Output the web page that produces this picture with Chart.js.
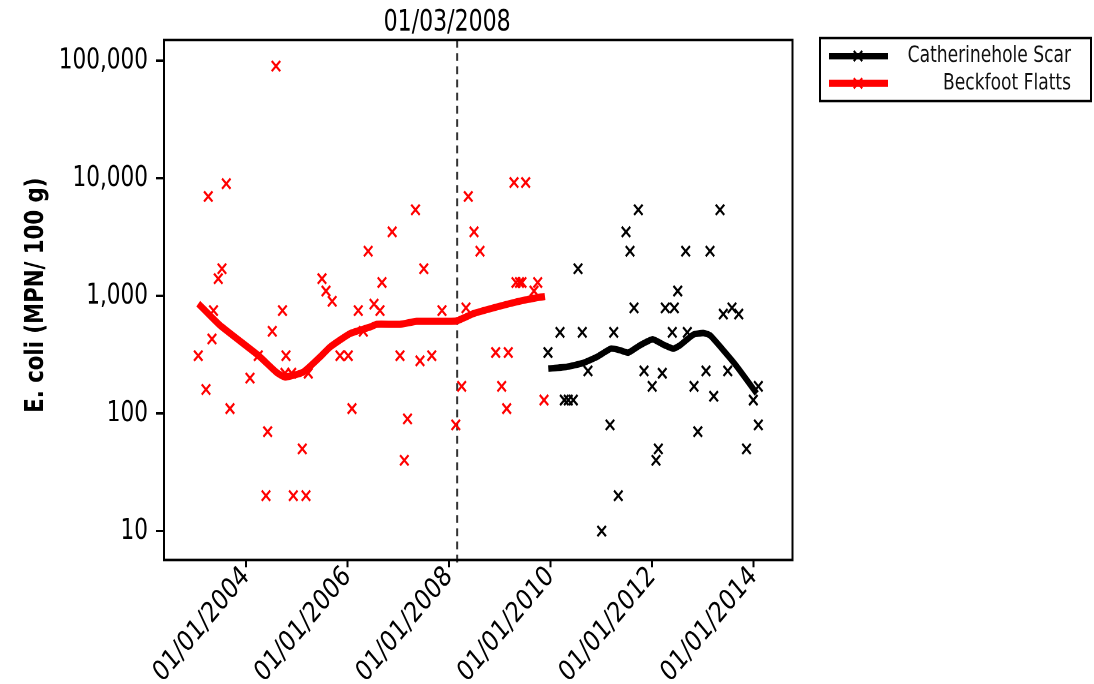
<!DOCTYPE html>
<html>
<head>
<meta charset="utf-8">
<title>E. coli in shellfish flesh</title>
<style>
  html, body { margin: 0; padding: 0; background: #fff; overflow: hidden; }
  #chart { display: block; }
</style>
<script src="https://cdn.jsdelivr.net/npm/chart.js"></script>
</head>
<body>
<canvas id="chart" width="1094" height="570" style="width:1094px;height:684px"></canvas>
<script>
// Sampling dates are decimal years; results are E. coli MPN per 100 g.
const changeDate = 2008.164;          // 01/03/2008
const changeLabel = '01/03/2008';
const yAxisTitle = 'E. coli (MPN/ 100 g)';
const xTickYears = [2004, 2006, 2008, 2010, 2012, 2014];
const yTickValues = [10, 100, 1000, 10000, 100000];

const beckfootYears = [
  2003.064, 2003.216, 2003.261, 2003.334, 2003.364, 2003.458, 2003.531, 2003.616, 2003.689,
  2004.083, 2004.246, 2004.398, 2004.431, 2004.522, 2004.595, 2004.723, 2004.772, 2004.792,
  2004.904, 2004.936, 2005.113, 2005.186, 2005.231, 2005.501, 2005.580, 2005.702, 2005.856,
  2006.019, 2006.092, 2006.216, 2006.315, 2006.411, 2006.526, 2006.644, 2006.683, 2006.884,
  2007.038, 2007.123, 2007.186, 2007.343, 2007.432, 2007.507, 2007.664, 2007.865, 2008.137,
  2008.253, 2008.338, 2008.383, 2008.496, 2008.614, 2008.923, 2009.041, 2009.140, 2009.171,
  2009.284, 2009.323, 2009.392, 2009.441, 2009.514, 2009.678, 2009.751, 2009.875
];
const beckfootEcoli = [
  310, 160, 7000, 430, 750, 1400, 1700, 9000, 110,
  200, 310, 20, 70, 500, 90000, 750, 220, 310,
  220, 20, 50, 20, 220, 1400, 1100, 900, 310,
  310, 110, 750, 500, 2400, 850, 750, 1300, 3500,
  310, 40, 90, 5400, 280, 1700, 310, 750, 80,
  170, 790, 7000, 3500, 2400, 330, 170, 110, 330,
  9200, 1300, 1300, 1300, 9200, 1100, 1300, 130
];

const catherineholeYears = [
  2009.953, 2010.190, 2010.275, 2010.353, 2010.452, 2010.545, 2010.629, 2010.741, 2011.011,
  2011.175, 2011.248, 2011.338, 2011.490, 2011.569, 2011.648, 2011.733, 2011.845, 2012.006,
  2012.081, 2012.127, 2012.205, 2012.264, 2012.402, 2012.442, 2012.509, 2012.666, 2012.698,
  2012.830, 2012.905, 2013.066, 2013.145, 2013.218, 2013.342, 2013.407, 2013.494, 2013.578,
  2013.711, 2013.864, 2013.998, 2014.097, 2014.097
];
const catherineholeEcoli = [
  330, 490, 130, 130, 130, 1700, 490, 230, 10,
  80, 490, 20, 3500, 2400, 790, 5400, 230, 170,
  40, 50, 220, 790, 490, 790, 1100, 2400, 490,
  170, 70, 230, 2400, 140, 5400, 700, 230, 790,
  700, 50, 130, 170, 80
];

// Smoothed trend through each site's results
const beckfootTrendYears = [
  2003.064, 2003.492, 2004.246, 2004.609, 2004.772, 2005.133, 2005.462, 2005.659, 2006.053,
  2006.447, 2006.579, 2007.036, 2007.367, 2008.141, 2008.482, 2009.140, 2009.534, 2009.894
];
const beckfootTrend = [
  859, 562, 312, 223, 204, 225, 302, 367, 478,
  543, 573, 573, 607, 611, 706, 847, 929, 990
];
const catherineholeTrendYears = [
  2009.959, 2010.322, 2010.649, 2010.913, 2011.195, 2011.372, 2011.536, 2011.766, 2012.016,
  2012.225, 2012.422, 2012.554, 2012.816, 2013.013, 2013.145, 2013.407, 2013.671, 2014.065
];
const catherineholeTrend = [
  241, 249, 269, 302, 356, 345, 329, 380, 427,
  385, 356, 380, 468, 483, 462, 345, 252, 148
];

const FONT = "'DejaVu Sans Condensed', 'DejaVu Sans', sans-serif";
const TITLE_FONT = "'DejaVu Sans', sans-serif";
const RED = '#ff0000';
const BLACK = '#000000';

function pairs(xs, ys) {
  return xs.map((x, i) => ({ x: x, y: ys[i] }));
}

function drawCross(ctx, x, y, r) {
  const d = r * Math.SQRT1_2;
  ctx.beginPath();
  ctx.moveTo(x - d, y - d); ctx.lineTo(x + d, y + d);
  ctx.moveTo(x - d, y + d); ctx.lineTo(x + d, y - d);
  ctx.stroke();
}

// Dashed marker for the change date, drawn under the data
const changeLine = {
  id: 'changeLine',
  beforeDatasetsDraw(chart) {
    const { ctx, chartArea: a, scales: { x } } = chart;
    const px = x.getPixelForValue(changeDate);
    ctx.save();
    ctx.strokeStyle = '#333333';
    ctx.lineWidth = 2;
    ctx.setLineDash([6.5, 4.5]);
    ctx.beginPath();
    ctx.moveTo(px, a.top);
    ctx.lineTo(px, a.bottom + 6);
    ctx.stroke();
    ctx.setLineDash([]);
    ctx.fillStyle = '#000';
    ctx.font = `24.5px ${FONT}`;
    ctx.textAlign = 'center';
    ctx.textBaseline = 'middle';
    ctx.fillText(changeLabel, px - 10, a.top - 14);
    ctx.restore();
  }
};

// Bold, narrow vertical axis title
const axisTitle = {
  id: 'axisTitle',
  afterDraw(chart) {
    const { ctx, chartArea: a } = chart;
    ctx.save();
    ctx.font = `bold 26px ${TITLE_FONT}`;
    ctx.fillStyle = '#000';
    ctx.textAlign = 'center';
    ctx.textBaseline = 'alphabetic';
    const natural = ctx.measureText(yAxisTitle).width;
    ctx.translate(43, (a.top + a.bottom) / 2 - 4);
    ctx.rotate(-Math.PI / 2);
    ctx.scale(196 / natural, 1);
    ctx.fillText(yAxisTitle, 0, 0);
    ctx.restore();
  }
};

// Plot frame and the key box on the right
const frameAndKey = {
  id: 'frameAndKey',
  afterDraw(chart) {
    const { ctx, chartArea: a } = chart;
    ctx.save();
    ctx.strokeStyle = '#000';
    ctx.lineWidth = 2;
    ctx.strokeRect(a.left, a.top, a.right - a.left, a.bottom - a.top);

    ctx.strokeRect(820, 31.7, 271, 52.5);
    const entries = [chart.data.datasets[0], chart.data.datasets[1]];
    entries.forEach((ds, i) => {
      const y = 46.7 + i * 22.7;
      ctx.strokeStyle = ds.borderColor;
      ctx.lineWidth = ds.borderWidth;
      ctx.beginPath();
      ctx.moveTo(829, y);
      ctx.lineTo(888, y);
      ctx.stroke();
      ctx.lineWidth = 2;
      drawCross(ctx, 858, y, 6);
      ctx.fillStyle = '#111';
      ctx.font = `19px ${FONT}`;
      ctx.textAlign = 'right';
      ctx.textBaseline = 'middle';
      ctx.fillText(ds.label, 1071, y);
    });
    ctx.restore();
  }
};

new Chart(document.getElementById('chart'), {
  type: 'scatter',
  data: {
    datasets: [
      {
        label: 'Catherinehole Scar',
        data: pairs(catherineholeTrendYears, catherineholeTrend),
        showLine: true, borderColor: BLACK, backgroundColor: BLACK,
        borderWidth: 5.5, pointRadius: 0, tension: 0.15, order: 0
      },
      {
        label: 'Beckfoot Flatts',
        data: pairs(beckfootTrendYears, beckfootTrend),
        showLine: true, borderColor: RED, backgroundColor: RED,
        borderWidth: 6, pointRadius: 0, tension: 0.15, order: 0
      },
      {
        label: 'Catherinehole Scar results',
        data: pairs(catherineholeYears, catherineholeEcoli),
        showLine: false, pointStyle: 'crossRot', pointRadius: 6,
        borderColor: BLACK, backgroundColor: BLACK, borderWidth: 2, order: 1
      },
      {
        label: 'Beckfoot Flatts results',
        data: pairs(beckfootYears, beckfootEcoli),
        showLine: false, pointStyle: 'crossRot', pointRadius: 6,
        borderColor: RED, backgroundColor: RED, borderWidth: 2, order: 1
      }
    ]
  },
  options: {
    responsive: false,
    animation: false,
    devicePixelRatio: 2,
    layout: { padding: { left: 0, top: 33.3, right: 301.5, bottom: 0 } },
    plugins: { legend: { display: false }, tooltip: { enabled: false } },
    scales: {
      x: {
        type: 'linear',
        min: 2002.389,
        max: 2014.77,
        afterFit(scale) { scale.height = 103.3; },
        afterBuildTicks(scale) { scale.ticks = xTickYears.map(v => ({ value: v })); },
        ticks: {
          callback: v => '01/01/' + v,
          minRotation: 45, maxRotation: 45, autoSkip: false,
          color: '#000', padding: -6,
          font: { family: FONT, size: 24 }
        },
        grid: { display: true, drawOnChartArea: false, drawTicks: true, tickLength: 6, color: '#000', lineWidth: 2 },
        border: { display: true, color: '#000', width: 2 }
      },
      y: {
        type: 'logarithmic',
        min: 5.67,
        max: 150000,
        bounds: 'data',
        afterFit(scale) { scale.width = 164; },
        afterBuildTicks(scale) { scale.ticks = yTickValues.map(v => ({ value: v })); },
        ticks: {
          callback: v => Number(v).toLocaleString('en-US'),
          color: '#000', padding: 8,
          font: { family: FONT, size: 24 }
        },
        grid: { display: true, drawOnChartArea: false, drawTicks: true, tickLength: 8, color: '#000', lineWidth: 2 },
        border: { display: true, color: '#000', width: 2 }
      }
    }
  },
  plugins: [changeLine, axisTitle, frameAndKey]
});
</script>
</body>
</html>
